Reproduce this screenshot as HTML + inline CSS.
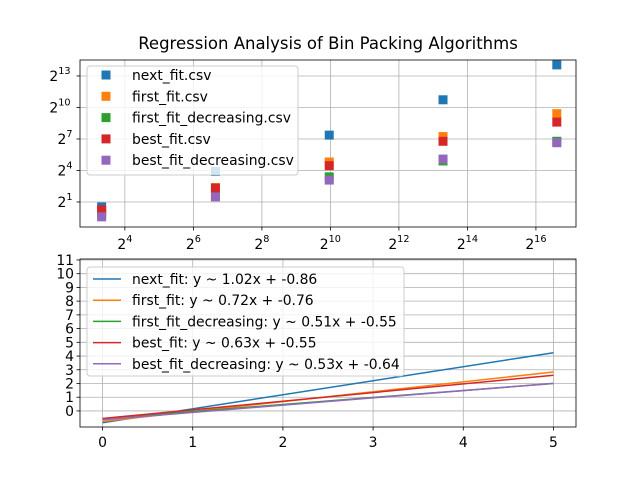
<!DOCTYPE html>
<html><head><meta charset="utf-8"><style>
body{margin:0;background:#fff}
svg{display:block;font-family:"DejaVu Sans","Liberation Sans",sans-serif}
</style></head><body>
<svg id="chart" width="640" height="480" viewBox="0 0 640 480" xmlns="http://www.w3.org/2000/svg">
<rect width="640" height="480" fill="#fff"/>
<text x="328" y="49" font-size="16.5" text-anchor="middle">Regression Analysis of Bin Packing Algorithms</text>
<g id="topAxes"></g>
<g id="botAxes"></g>
</svg>
<script>
// ---- data ----
const sizes = [10, 100, 1000, 10000, 100000];
const seriesNames = ["next_fit.csv","first_fit.csv","first_fit_decreasing.csv","best_fit.csv","best_fit_decreasing.csv"];
const nextFit = [1.45, 15, 165, 1700, 17000];
const firstFit = [0.95, 5.2, 28, 150, 680];
const firstFitDec = [0.9, 3.0, 10.5, 30, 110];
const bestFit = [1.2, 5.0, 22, 110, 390];
const bestFitDec = [0.75, 2.8, 8.5, 34, 100];
const topXTicks = [4, 6, 8, 10, 12, 14, 16];
const topYTicks = [1, 4, 7, 10, 13];
const fitNames = ["next_fit: y ~ 1.02x + -0.86","first_fit: y ~ 0.72x + -0.76","first_fit_decreasing: y ~ 0.51x + -0.55","best_fit: y ~ 0.63x + -0.55","best_fit_decreasing: y ~ 0.53x + -0.64"];
const slopes = [1.02, 0.72, 0.51, 0.63, 0.53];
const intercepts = [-0.86, -0.76, -0.55, -0.55, -0.64];
const botXTicks = [0, 1, 2, 3, 4, 5];
const botYTicks = [0,1,2,3,4,5,6,7,8,9,10,11];
const colors = ["#1f77b4","#ff7f0e","#2ca02c","#d62728","#9467bd"];

const NS="http://www.w3.org/2000/svg";
function mk(tag, attrs, parent){const e=document.createElementNS(NS,tag);for(const k in attrs)e.setAttribute(k,attrs[k]);parent.appendChild(e);return e;}
function supText(parent,x,y,base,exp){
 const t=mk('text',{x:x,y:y,'font-size':13.9,'text-anchor':'middle'},parent);
 t.appendChild(document.createTextNode(base));
 const s=mk('tspan',{dy:-7,'font-size':9.7},t);s.textContent=exp;return t;}
const L=80,R=576;
// ---- top axes ----
const topG=document.getElementById('topAxes');
const tT=60,tB=227;
const txMin=2.69, txMax=17.17, tyMin=-1.38, tyMax=14.52;
const tx=v=>L+(Math.log2(v)-txMin)/(txMax-txMin)*(R-L);
const txe=e=>L+(e-txMin)/(txMax-txMin)*(R-L);
const tye=e=>tB-(e-tyMin)/(tyMax-tyMin)*(tB-tT);
const ty=v=>tye(Math.log2(v));
topXTicks.forEach(e=>{const x=txe(e);
 const g=mk('line',{x1:x,x2:x,y1:tT,y2:tB,stroke:'#b0b0b0','stroke-width':0.8},topG);
 
 
 mk('line',{x1:x,x2:x,y1:tB,y2:tB+3.5,stroke:'#000','stroke-width':0.8},topG);
 const t=supText(topG,x,tB+22,'2',String(e));
 
 });
topYTicks.forEach(e=>{const y=tye(e);
 const g=mk('line',{x1:L,x2:R,y1:y,y2:y,stroke:'#b0b0b0','stroke-width':0.8},topG);
 
 
 mk('line',{x1:L-3.5,x2:L,y1:y,y2:y,stroke:'#000','stroke-width':0.8},topG);
 const t=supText(topG,L-(e>=10?20:15),y+5,'2',String(e));
 
 });
[nextFit,firstFit,firstFitDec,bestFit,bestFitDec].forEach((arr,i)=>{
 arr.forEach((v,j)=>{const r=mk('rect',{x:tx(sizes[j])-4.5,y:ty(v)-4.5,width:9,height:9,fill:colors[i]},topG);
  
  });});
mk('rect',{x:L,y:tT,width:R-L,height:tB-tT,fill:'none',stroke:'#000','stroke-width':0.8},topG);
const lg1=mk('g',{},topG);


mk('rect',{x:87,y:66,width:211,height:109,rx:3,fill:'#fff','fill-opacity':0.8,stroke:'#ccc','stroke-width':1},lg1);
seriesNames.forEach((n,i)=>{const y=75+i*21.3;
 mk('rect',{x:101.5,y:y-4.5,width:9,height:9,fill:colors[i]},lg1);
 const t=mk('text',{x:132,y:y+5,'font-size':13.9},lg1);
 
 
 t.textContent=n;});
// ---- bottom axes ----
const botG=document.getElementById('botAxes');
const bT=259,bB=427;
const bxMin=-0.25,bxMax=5.25,byMin=-1.17,byMax=11.07;
const bx=v=>L+(v-bxMin)/(bxMax-bxMin)*(R-L);
const by=v=>bB-(v-byMin)/(byMax-byMin)*(bB-bT);
botXTicks.forEach(v=>{const x=bx(v);
 const g=mk('line',{x1:x,x2:x,y1:bT,y2:bB,stroke:'#b0b0b0','stroke-width':0.8},botG);
 
 
 mk('line',{x1:x,x2:x,y1:bB,y2:bB+3.5,stroke:'#000','stroke-width':0.8},botG);
 const t=mk('text',{x:x,y:bB+20,'font-size':13.9,'text-anchor':'middle'},botG);
 
 
 t.textContent=v;});
botYTicks.forEach(v=>{const y=by(v);
 const g=mk('line',{x1:L,x2:R,y1:y,y2:y,stroke:'#b0b0b0','stroke-width':0.8},botG);
 
 
 mk('line',{x1:L-3.5,x2:L,y1:y,y2:y,stroke:'#000','stroke-width':0.8},botG);
 const t=mk('text',{x:L-6,y:y+5,'font-size':13.9,'text-anchor':'end'},botG);
 
 
 t.textContent=v;});
slopes.forEach((m,i)=>{const b=intercepts[i];
 const l=mk('line',{x1:bx(0),y1:by(b),x2:bx(5),y2:by(m*5+b),stroke:colors[i],'stroke-width':1.5},botG);
 
 });
mk('rect',{x:L,y:bT,width:R-L,height:bB-bT,fill:'none',stroke:'#000','stroke-width':0.8},botG);
const lg2=mk('g',{},botG);


mk('rect',{x:87,y:267,width:317,height:109,rx:3,fill:'#fff','fill-opacity':0.8,stroke:'#ccc','stroke-width':1},lg2);
fitNames.forEach((n,i)=>{const y=279+i*21.2;
 mk('line',{x1:93,x2:121,y1:y,y2:y,stroke:colors[i],'stroke-width':1.5},lg2);
 const t=mk('text',{x:132,y:y+5,'font-size':13.9},lg2);
 
 
 t.textContent=n;});
</script>
</body></html>
